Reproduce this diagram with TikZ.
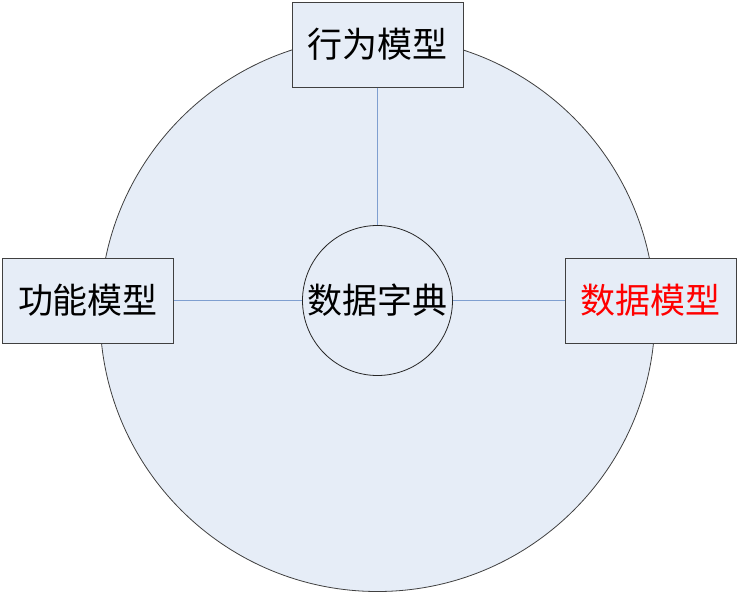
\documentclass[tikz,border=0pt]{standalone}
\usepackage{fontspec}
\newfontfamily\cjk{Noto Sans CJK SC}
\definecolor{fillblue}{HTML}{E6EDF7}
\definecolor{lineblue}{HTML}{7F9FD0}
\begin{document}
\begin{tikzpicture}[x=1pt,y=-1pt,
  box/.style={draw=black!75,line width=0.8pt,fill=fillblue,minimum width=171pt,minimum height=85pt,inner sep=0pt,font=\cjk\fontsize{35}{35}\selectfont},
  conn/.style={draw=lineblue,line width=0.8pt}]
\useasboundingbox (0,0) rectangle (740,594);
\node[circle,draw=black!75,line width=0.8pt,fill=fillblue,minimum size=555pt,inner sep=0pt] (big) at (377.5,314) {};
\node[circle,draw=black!85,line width=0.8pt,fill=fillblue,minimum size=150pt,inner sep=0pt,font=\cjk\fontsize{35}{35}\selectfont] (dict) at (377.5,300.5) {数据字典};
\node[box] (beh) at (377.5,44.7) {行为模型};
\node[box] (fun) at (88,300.5) {功能模型};
\node[box,text=red] (dat) at (650.5,300.5) {数据模型};
\draw[conn] (beh.south) -- (dict.north);
\draw[conn] (fun.east) -- (dict.west);
\draw[conn] (dat.west) -- (dict.east);
\end{tikzpicture}
\end{document}
